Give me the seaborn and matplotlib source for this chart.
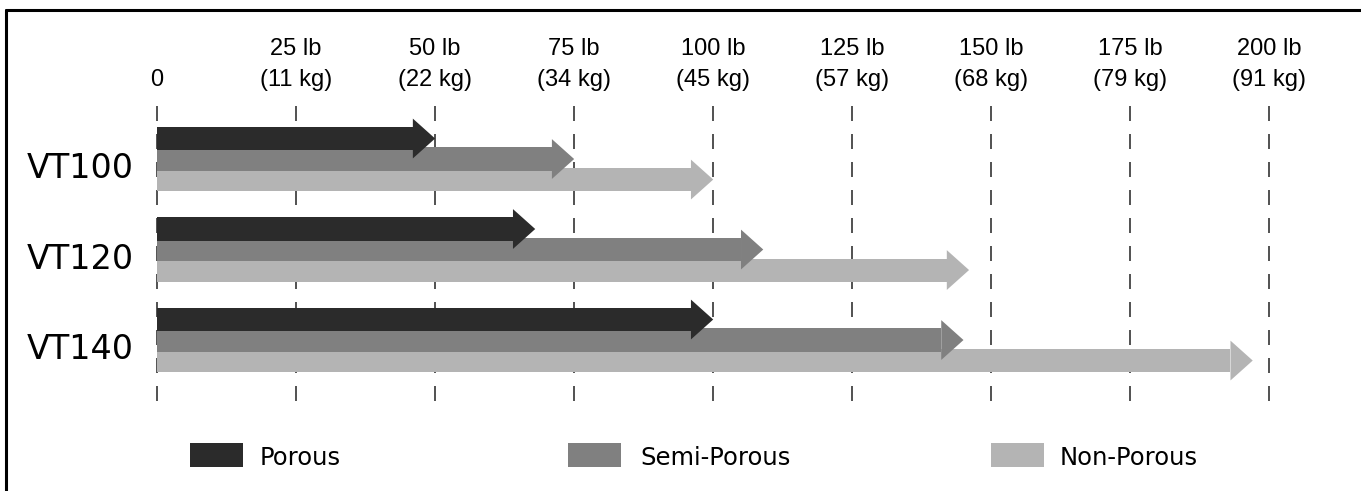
import numpy as np
import pandas as pd
import matplotlib
matplotlib.use("Agg")
import matplotlib.pyplot as plt
import seaborn as sns
from matplotlib.colors import to_rgb
from matplotlib.lines import Line2D
from matplotlib.patches import Polygon, Rectangle
from matplotlib.transforms import ScaledTranslation

# data (pounds)
models = ["VT100", "VT120", "VT140"]
surfaces = ["Porous", "Semi-Porous", "Non-Porous"]
porous = [50, 68, 100]
semi_porous = [75, 109, 145]
non_porous = [100, 146, 197]

tick_lb = [0, 25, 50, 75, 100, 125, 150, 175, 200]
tick_kg = [None, 11, 22, 34, 45, 57, 68, 79, 91]

colors = ["#2b2b2b", "#808080", "#b4b4b4"]

df = pd.DataFrame({
    "model": models * 3,
    "surface": np.repeat(surfaces, len(models)),
    "load": porous + semi_porous + non_porous,
})

W, H = 1361, 491
HEAD_LEN = 4.0      # lb
HEAD_H = 0.44       # row units
BAR_H = 0.255
Y_TOP, Y_BOT = -0.586, 2.74

df["shaft"] = df["load"] - HEAD_LEN

sns.set_style("white")
plt.rcParams["font.family"] = ["DejaVu Sans"]
plt.rcParams["text.color"] = "black"

fig = plt.figure(figsize=(W / 100, H / 100), dpi=100)
ax = fig.add_axes([157 / W, 1 - 407 / H, (1300 - 157) / W, (407 - 106) / H])

sns.barplot(data=df, x="shaft", y="model", hue="surface", hue_order=surfaces,
            order=models, palette=colors, orient="h", dodge=True, width=0.68,
            saturation=1, linewidth=0, errorbar=None, legend=False, ax=ax)

# turn the bars into arrows, Porous on top
rgb = [np.array(to_rgb(c)) for c in colors]
for bar in ax.patches[:]:
    fc = np.array(bar.get_facecolor()[:3])
    k = int(np.argmin([np.abs(fc - c).sum() for c in rgb]))
    z = 2.3 - 0.1 * k
    yc = bar.get_y() + bar.get_height() / 2
    bar.set_height(BAR_H)
    bar.set_y(yc - BAR_H / 2)
    bar.set_zorder(z)
    x0 = bar.get_width()
    ax.add_patch(Polygon([[x0, yc - HEAD_H / 2], [x0 + HEAD_LEN, yc],
                          [x0, yc + HEAD_H / 2]], closed=True,
                         fc=colors[k], ec="none", zorder=z + 1))

ax.vlines(tick_lb, Y_TOP, Y_BOT, colors="#333333", linestyles=(0, (9, 7.8)),
          linewidth=1.2, zorder=1, clip_on=False)

ax.set_xlim(0, 205.5)
ax.set_ylim(Y_BOT, Y_TOP)
ax.set_xlabel("")
ax.set_ylabel("")

ax.xaxis.tick_top()
ax.set_xticks(tick_lb)
labels = ["0" if kg is None else f"{lb} lb\n({kg} kg)" for lb, kg in zip(tick_lb, tick_kg)]
ax.set_xticklabels(labels, fontsize=17, family=["Liberation Sans", "DejaVu Sans"],
                   linespacing=1.5)
ax.tick_params(axis="x", length=0, pad=11, colors="black")
ax.tick_params(axis="y", length=0, pad=17, labelsize=24, colors="black")
shift = ScaledTranslation(0, -0.06, fig.dpi_scale_trans)
for lab in ax.get_yticklabels():
    lab.set_transform(lab.get_transform() + shift)
sns.despine(ax=ax, left=True, bottom=True, top=True, right=True)

# legend along the bottom
patch_x = [190, 568, 991]
text_x = [260, 640, 1060]
for name, c, px, tx in zip(surfaces, colors, patch_x, text_x):
    fig.add_artist(Rectangle((px / W, 1 - 467 / H), 53 / W, 24 / H,
                             transform=fig.transFigure, fc=c, ec="none"))
    fig.text(tx / W, 1 - 465 / H, name, va="baseline", ha="left", fontsize=17.5,
             color="black")

# frame (top and left edges visible)
fig.add_artist(Line2D([5.5 / W, 1], [1 - 9.5 / H] * 2, transform=fig.transFigure,
                      color="black", lw=2.2))
fig.add_artist(Line2D([5.5 / W] * 2, [0, 1 - 9.5 / H], transform=fig.transFigure,
                      color="black", lw=2.2))

fig.savefig("out.png", dpi=100)
